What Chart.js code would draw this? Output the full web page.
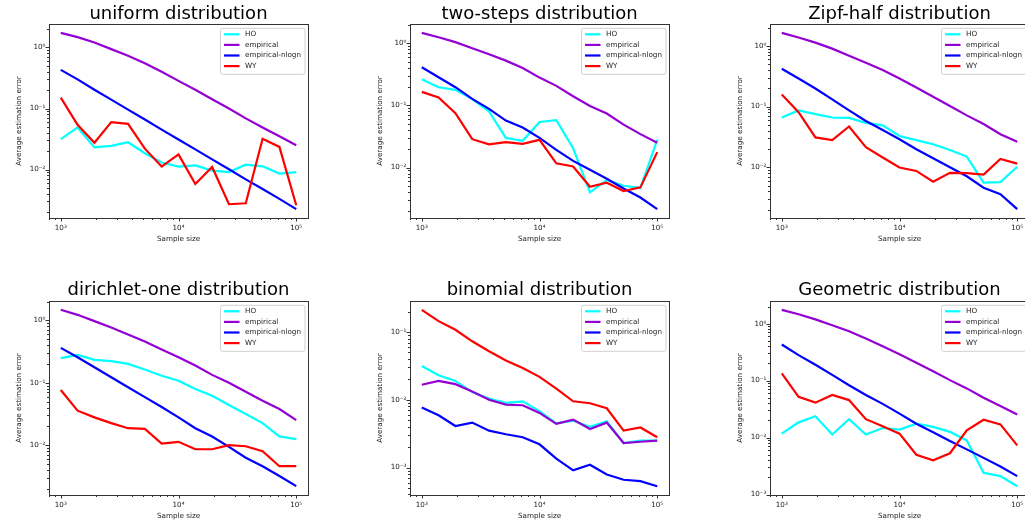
<!DOCTYPE html>
<html>
<head>
<meta charset="utf-8">
<script src="https://cdn.jsdelivr.net/npm/chart.js@4.4.1/dist/chart.umd.min.js"></script>
<style>
  body { margin: 0; background: #fff; width: 1025px; height: 525px; overflow: hidden; position: relative; }
  canvas { position: absolute; }
</style>
</head>
<body>
<script>
// sample sizes (log-spaced, 15 points from 1e3 to 1e5)
const sampleSizes = [1000, 1389, 1931, 2683, 3728, 5179, 7197, 10000, 13895, 19307, 26827, 37276, 51795, 71969, 100000];
const seriesNames = ['HO', 'empirical', 'empirical-nlogn', 'WY'];
const seriesColors = ['#00ffff', '#9400d3', '#0000ff', '#ff0000'];

const uniformHO    = [0.0316, 0.049, 0.023, 0.0245, 0.028, 0.0185, 0.013, 0.0112, 0.0117, 0.0096, 0.0091, 0.012, 0.0113, 0.0086, 0.0091];
const uniformEmp   = [1.74, 1.48, 1.21, 0.94, 0.73, 0.55, 0.40, 0.284, 0.203, 0.142, 0.10, 0.069, 0.049, 0.035, 0.025];
const uniformNlogn = [0.43, 0.30, 0.203, 0.140, 0.096, 0.066, 0.045, 0.031, 0.0214, 0.0147, 0.0101, 0.0069, 0.0048, 0.0033, 0.00224];
const uniformWY    = [0.151, 0.054, 0.0275, 0.060, 0.056, 0.022, 0.0112, 0.0177, 0.0058, 0.011, 0.0027, 0.0028, 0.032, 0.0235, 0.0026];

const twoStepsHO    = [0.263, 0.196, 0.178, 0.126, 0.08, 0.030, 0.027, 0.054, 0.058, 0.0204, 0.004, 0.0063, 0.0051, 0.0047, 0.028];
const twoStepsEmp   = [1.47, 1.25, 1.04, 0.83, 0.665, 0.525, 0.40, 0.28, 0.206, 0.14, 0.098, 0.074, 0.049, 0.0345, 0.025];
const twoStepsNlogn = [0.41, 0.284, 0.196, 0.127, 0.088, 0.057, 0.044, 0.030, 0.0192, 0.0128, 0.0092, 0.0066, 0.0046, 0.0033, 0.00214];
const twoStepsWY    = [0.165, 0.134, 0.075, 0.0286, 0.0237, 0.0256, 0.024, 0.0279, 0.0117, 0.0104, 0.0049, 0.0057, 0.0042, 0.0048, 0.0177];

const zipfHO    = [0.066, 0.0865, 0.075, 0.066, 0.065, 0.054, 0.049, 0.0327, 0.028, 0.024, 0.0193, 0.015, 0.0056, 0.0057, 0.0102];
const zipfEmp   = [1.64, 1.37, 1.13, 0.90, 0.69, 0.525, 0.40, 0.29, 0.206, 0.145, 0.102, 0.0716, 0.0516, 0.035, 0.0264];
const zipfNlogn = [0.42, 0.29, 0.198, 0.131, 0.0865, 0.058, 0.041, 0.029, 0.0198, 0.0141, 0.010, 0.0071, 0.0046, 0.0036, 0.00204];
const zipfWY    = [0.158, 0.081, 0.031, 0.028, 0.047, 0.0215, 0.0145, 0.0099, 0.0087, 0.0058, 0.0081, 0.0080, 0.0076, 0.0137, 0.0115];

const dirichletHO    = [0.248, 0.28, 0.233, 0.222, 0.201, 0.163, 0.130, 0.108, 0.0795, 0.062, 0.044, 0.0316, 0.0226, 0.0138, 0.0125];
const dirichletEmp   = [1.48, 1.23, 0.975, 0.77, 0.595, 0.46, 0.342, 0.257, 0.189, 0.134, 0.10, 0.072, 0.0516, 0.038, 0.0252];
const dirichletNlogn = [0.363, 0.257, 0.178, 0.123, 0.085, 0.059, 0.041, 0.0279, 0.0187, 0.0138, 0.0094, 0.0063, 0.0046, 0.0032, 0.0022];
const dirichletWY    = [0.0767, 0.0357, 0.0279, 0.0226, 0.0187, 0.0183, 0.0106, 0.0113, 0.0086, 0.0086, 0.0100, 0.0096, 0.0080, 0.0046, 0.0046];

const binomialHO    = [0.0315, 0.023, 0.019, 0.013, 0.0104, 0.0090, 0.0095, 0.0068, 0.0045, 0.0049, 0.0040, 0.0048, 0.0023, 0.0025, 0.0025];
const binomialEmp   = [0.0167, 0.019, 0.017, 0.0133, 0.010, 0.0085, 0.0083, 0.0064, 0.0044, 0.0051, 0.0037, 0.0046, 0.0023, 0.0024, 0.0025];
const binomialNlogn = [0.0077, 0.0059, 0.0041, 0.0046, 0.0035, 0.0031, 0.0028, 0.0022, 0.00135, 0.00091, 0.0011, 0.00079, 0.00066, 0.00063, 0.00053];
const binomialWY    = [0.213, 0.145, 0.108, 0.073, 0.052, 0.038, 0.0295, 0.0218, 0.0146, 0.0095, 0.0089, 0.0075, 0.0035, 0.0039, 0.0028];

const geometricHO    = [0.0117, 0.0185, 0.0236, 0.0113, 0.021, 0.0113, 0.0147, 0.0138, 0.0175, 0.0154, 0.0126, 0.0089, 0.0024, 0.0021, 0.0014];
const geometricEmp   = [1.75, 1.46, 1.19, 0.935, 0.735, 0.55, 0.40, 0.29, 0.206, 0.146, 0.102, 0.073, 0.050, 0.0357, 0.0255];
const geometricNlogn = [0.43, 0.28, 0.19, 0.126, 0.083, 0.056, 0.039, 0.0263, 0.0175, 0.0124, 0.0087, 0.0062, 0.0044, 0.0031, 0.0021];
const geometricWY    = [0.134, 0.052, 0.041, 0.056, 0.0455, 0.021, 0.0158, 0.0117, 0.005, 0.004, 0.0053, 0.0134, 0.0205, 0.017, 0.0073];

const panels = [
  { title: 'uniform distribution',       series: [uniformHO, uniformEmp, uniformNlogn, uniformWY] },
  { title: 'two-steps distribution',     series: [twoStepsHO, twoStepsEmp, twoStepsNlogn, twoStepsWY] },
  { title: 'Zipf-half distribution',     series: [zipfHO, zipfEmp, zipfNlogn, zipfWY] },
  { title: 'dirichlet-one distribution', series: [dirichletHO, dirichletEmp, dirichletNlogn, dirichletWY] },
  { title: 'binomial distribution',      series: [binomialHO, binomialEmp, binomialNlogn, binomialWY] },
  { title: 'Geometric distribution',     series: [geometricHO, geometricEmp, geometricNlogn, geometricWY] }
];

// page layout (pixels)
const colX = [0, 340, 680], colW = 360;
const frameL = [49, 410, 770], frameR = [308, 669, 1029];
const rowY = [0, 262], rowH = [262, 263];
const frameT = [24, 301], frameB = [218, 495];
const titlePad = [{ top: 5.5, bottom: 0.5 }, { top: 19.8, bottom: 1.2 }];
const yAxisW = 40, xAxisH = 28;

Chart.defaults.font.family = 'DejaVu Sans';

const sup = { '0': '\u2070', '1': '\u00b9', '2': '\u00b2', '3': '\u00b3', '4': '\u2074', '5': '\u2075', '-': '\u207b' };
const isDecade = v => Math.abs(Math.log10(v) - Math.round(Math.log10(v))) < 1e-9;
const decadeLabel = v => isDecade(v) ? '10' + String(Math.round(Math.log10(v))).split('').map(c => sup[c]).join('') : '';

function logTicks(min, max) {
  const out = [];
  for (let e = Math.floor(Math.log10(min)); e <= Math.ceil(Math.log10(max)); e++) {
    for (let m = 1; m <= 9; m++) {
      const v = m * Math.pow(10, e);
      if (v >= min * 0.9999 && v <= max) out.push({ value: v });
    }
  }
  return out;
}

const framePlugin = {
  id: 'frame',
  afterDatasetsDraw(chart) {
    const { ctx, chartArea: a, scales } = chart;
    ctx.save();
    ctx.strokeStyle = '#333';
    ctx.lineWidth = 1;
    ctx.strokeRect(Math.round(a.left) + 0.5, Math.round(a.top) + 0.5, Math.round(a.right - a.left), Math.round(a.bottom - a.top));
    ctx.beginPath();
    scales.x.ticks.forEach(t => {
      const p = Math.round(scales.x.getPixelForValue(t.value)) + 0.5;
      ctx.moveTo(p, a.bottom); ctx.lineTo(p, a.bottom + (isDecade(t.value) ? 3.5 : 2));
    });
    scales.y.ticks.forEach(t => {
      const p = Math.round(scales.y.getPixelForValue(t.value)) + 0.5;
      ctx.moveTo(a.left, p); ctx.lineTo(a.left - (isDecade(t.value) ? 3.5 : 2), p);
    });
    ctx.stroke();

    // legend box, upper right
    const w = 84.5, h = 46, x0 = a.right - 3 - w, y0 = a.top + 4.3;
    ctx.fillStyle = 'rgba(255,255,255,0.85)';
    ctx.strokeStyle = '#d0d0d0';
    ctx.beginPath();
    ctx.roundRect(x0, y0, w, h, 2);
    ctx.fill(); ctx.stroke();
    ctx.font = '7.2px "DejaVu Sans"';
    ctx.textBaseline = 'middle';
    ctx.textAlign = 'left';
    chart.data.datasets.forEach((ds, i) => {
      const yy = y0 + 6 + i * 10.6;
      ctx.strokeStyle = ds.borderColor;
      ctx.lineWidth = 2.2;
      ctx.beginPath(); ctx.moveTo(x0 + 3.5, yy); ctx.lineTo(x0 + 19, yy); ctx.stroke();
      ctx.fillStyle = '#222';
      ctx.fillText(ds.label, x0 + 24.5, yy);
    });
    ctx.restore();
  }
};

panels.forEach((panel, k) => {
  const c = k % 3, r = Math.floor(k / 3);
  const canvas = document.createElement('canvas');
  canvas.width = colW; canvas.height = rowH[r];
  canvas.style.left = colX[c] + 'px';
  canvas.style.top = rowY[r] + 'px';
  document.body.appendChild(canvas);

  const all = panel.series.flat();
  const lo = Math.log10(Math.min(...all)), hi = Math.log10(Math.max(...all));
  const margin = (hi - lo) * 0.05;

  new Chart(canvas.getContext('2d'), {
    type: 'line',
    data: {
      datasets: panel.series.map((vals, i) => ({
        label: seriesNames[i],
        data: sampleSizes.map((x, j) => ({ x: x, y: vals[j] })),
        borderColor: seriesColors[i],
        borderWidth: 2.2,
        pointRadius: 0,
        fill: false,
        tension: 0,
        order: 4 - i
      }))
    },
    options: {
      responsive: false,
      animation: false,
      devicePixelRatio: 1,
      layout: {
        padding: {
          left: frameL[c] - colX[c] - yAxisW,
          right: colX[c] + colW - frameR[c],
          top: 0,
          bottom: rowY[r] + rowH[r] - frameB[r] - xAxisH
        }
      },
      plugins: {
        legend: { display: false },
        tooltip: { enabled: false },
        title: {
          display: true,
          fullSize: false,
          text: panel.title,
          color: '#000',
          font: { size: 18, weight: 'normal', lineHeight: 1 },
          padding: titlePad[r]
        }
      },
      scales: {
        x: {
          type: 'logarithmic',
          min: Math.pow(10, 2.9),
          max: Math.pow(10, 5.1),
          grid: { display: false, drawTicks: false },
          border: { display: false },
          afterBuildTicks: s => { s.ticks = logTicks(s.min, s.max); },
          afterFit: s => { s.height = xAxisH; },
          ticks: {
            autoSkip: false, maxRotation: 0, padding: 6,
            color: '#222', font: { size: 7.2 },
            callback: v => decadeLabel(v)
          },
          title: { display: true, text: 'Sample size', color: '#222', font: { size: 7.2 }, padding: { top: 0, bottom: 2.7 } }
        },
        y: {
          type: 'logarithmic',
          min: Math.pow(10, lo - margin),
          max: Math.pow(10, hi + margin),
          grid: { display: false, drawTicks: false },
          border: { display: false },
          afterBuildTicks: s => { s.ticks = logTicks(s.min, s.max); },
          afterFit: s => { s.width = yAxisW; },
          ticks: {
            autoSkip: false, padding: 3.5,
            color: '#222', font: { size: 7.2 },
            callback: v => decadeLabel(v)
          },
          title: { display: true, text: 'Average estimation error', color: '#222', font: { size: 7.2 }, padding: { top: 6.2, bottom: 0 } }
        }
      }
    },
    plugins: [framePlugin]
  });
});
</script>
</body>
</html>
